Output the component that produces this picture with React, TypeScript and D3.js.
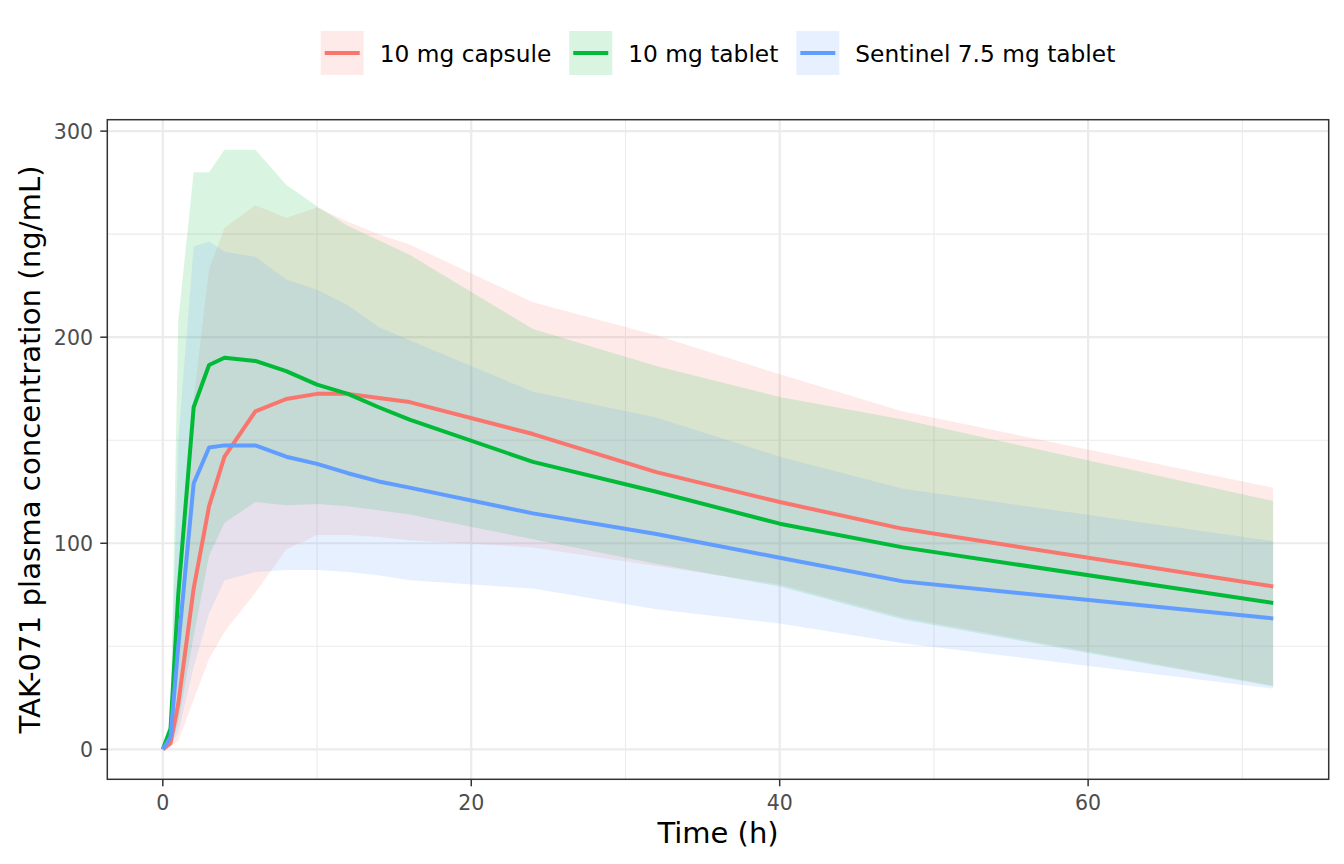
import React, { useRef, useEffect } from 'react';
import * as d3 from 'd3';

// sampling times (h)
const times = [0, 0.5, 1, 2, 3, 4, 6, 8, 10, 12, 14, 16, 24, 32, 40, 48, 72];

// 10 mg capsule
const capsuleMedian = [0, 3, 22, 78, 118, 142, 164, 170, 172.5, 172.5, 170.5, 168.5, 153, 134.5, 120, 107, 79];
const capsuleLower = [0, 1, 4, 24, 44, 57, 76, 97, 104, 104, 103, 101.5, 98, 89, 80, 64, 31];
const capsuleUpper = [0, 8, 45, 170, 233, 253, 264, 258, 263, 256, 250, 245, 217, 201, 182, 164, 127];

// 10 mg tablet
const tabletMedian = [0, 10, 75, 166, 186.5, 190, 188.5, 183.5, 177, 172.5, 166, 160, 139.5, 125, 109.5, 98, 71];
const tabletLower = [0, 2, 13, 55, 94, 110, 120, 118.5, 119, 118, 116, 114, 102, 90, 79, 63, 30.5];
const tabletUpper = [0, 12, 208, 280, 280, 291, 291, 274, 263.5, 254, 247, 240, 204, 186, 171, 160, 120.5];

// Sentinel 7.5 mg tablet
const sentinelMedian = [0, 6, 50, 129, 146.5, 147.5, 147.5, 142, 138.5, 134, 130, 127, 114.5, 104.5, 93, 81.5, 63.5];
const sentinelLower = [0, 2, 8, 40, 66, 82, 86, 87, 87, 86, 84.5, 82, 78, 68, 61, 51.5, 29.5];
const sentinelUpper = [0, 15, 150, 244, 246.5, 241.5, 239, 228, 223, 215.5, 205, 198.5, 173.5, 161, 142, 126.5, 101];

const groupNames = ['10 mg capsule', '10 mg tablet', 'Sentinel 7.5 mg tablet'];
const groupColors = ['#F8766D', '#00BA38', '#619CFF'];

const xMajorTicks = [0, 20, 40, 60];
const xMinorTicks = [10, 30, 50, 70];
const yMajorTicks = [0, 100, 200, 300];
const yMinorTicks = [50, 150, 250];

const xTitle = 'Time (h)';
const yTitle = 'TAK-071 plasma concentration (ng/mL)';

type Pt = { t: number; med: number; lo: number; hi: number };

function App() {
  const svgRef = useRef<SVGSVGElement | null>(null);

  useEffect(() => {
    const svg = d3.select(svgRef.current);
    svg.selectAll('*').remove();
    const font = 'DejaVu Sans, sans-serif';

    const left = 107.3;
    const right = 1328.7;
    const top = 119.7;
    const bottom = 779.3;

    // ggplot-style 5% expansion
    const x = d3.scaleLinear().domain([-3.6, 75.6]).range([left, right]);
    const y = d3.scaleLinear().domain([-14.55, 305.55]).range([bottom, top]);

    const groups: Pt[][] = [
      times.map((t, i) => ({ t, med: capsuleMedian[i], lo: capsuleLower[i], hi: capsuleUpper[i] })),
      times.map((t, i) => ({ t, med: tabletMedian[i], lo: tabletLower[i], hi: tabletUpper[i] })),
      times.map((t, i) => ({ t, med: sentinelMedian[i], lo: sentinelLower[i], hi: sentinelUpper[i] })),
    ];

    svg.append('rect').attr('x', 0).attr('y', 0).attr('width', 1344).attr('height', 864).attr('fill', 'white');

    // grid
    const grid = svg.append('g');
    xMinorTicks.forEach((v) => {
      grid.append('line').attr('x1', x(v)).attr('x2', x(v)).attr('y1', top).attr('y2', bottom)
        .attr('stroke', '#EBEBEB').attr('stroke-width', 1.1);
    });
    yMinorTicks.forEach((v) => {
      grid.append('line').attr('x1', left).attr('x2', right).attr('y1', y(v)).attr('y2', y(v))
        .attr('stroke', '#EBEBEB').attr('stroke-width', 1.1);
    });
    xMajorTicks.forEach((v) => {
      grid.append('line').attr('x1', x(v)).attr('x2', x(v)).attr('y1', top).attr('y2', bottom)
        .attr('stroke', '#EBEBEB').attr('stroke-width', 2.2);
    });
    yMajorTicks.forEach((v) => {
      grid.append('line').attr('x1', left).attr('x2', right).attr('y1', y(v)).attr('y2', y(v))
        .attr('stroke', '#EBEBEB').attr('stroke-width', 2.2);
    });

    const area = d3.area<Pt>().x((d) => x(d.t)).y0((d) => y(d.lo)).y1((d) => y(d.hi));
    const line = d3.line<Pt>().x((d) => x(d.t)).y((d) => y(d.med));

    // ribbons first, then median lines
    groups.forEach((g, i) => {
      svg.append('path').attr('d', area(g)).attr('fill', groupColors[i]).attr('fill-opacity', 0.15);
    });
    groups.forEach((g, i) => {
      svg.append('path').attr('d', line(g)).attr('fill', 'none').attr('stroke', groupColors[i])
        .attr('stroke-width', 4).attr('stroke-linejoin', 'round');
    });

    // panel border
    svg.append('rect').attr('x', left).attr('y', top).attr('width', right - left).attr('height', bottom - top)
      .attr('fill', 'none').attr('stroke', '#333333').attr('stroke-width', 1.5);

    // axes
    const axisG = svg.append('g');
    xMajorTicks.forEach((v) => {
      axisG.append('line').attr('x1', x(v)).attr('x2', x(v)).attr('y1', bottom).attr('y2', bottom + 7)
        .attr('stroke', '#333333').attr('stroke-width', 1.5);
      axisG.append('text').attr('x', x(v)).attr('y', 810).attr('text-anchor', 'middle')
        .attr('font-family', font).attr('font-size', 20.5).attr('fill', '#4D4D4D').text(v);
    });
    yMajorTicks.forEach((v) => {
      axisG.append('line').attr('x1', left - 7).attr('x2', left).attr('y1', y(v)).attr('y2', y(v))
        .attr('stroke', '#333333').attr('stroke-width', 1.5);
      axisG.append('text').attr('x', 93).attr('y', y(v)).attr('dy', '0.36em').attr('text-anchor', 'end')
        .attr('font-family', font).attr('font-size', 20.5).attr('fill', '#4D4D4D').text(v);
    });

    svg.append('text').attr('x', (left + right) / 2).attr('y', 843).attr('text-anchor', 'middle')
      .attr('font-family', font).attr('font-size', 29).attr('fill', 'black').text(xTitle);
    svg.append('text').attr('transform', `translate(40,${(top + bottom) / 2}) rotate(-90)`)
      .attr('text-anchor', 'middle').attr('font-family', font).attr('font-size', 29.2)
      .attr('fill', 'black').text(yTitle);

    // legend on top, centred over the panel
    const legend = svg.append('g');
    const keyW = 43;
    const keyH = 44;
    const textGap = 16;
    const itemGap = 18;
    const items = groupNames.map((name, i) => {
      const item = legend.append('g');
      item.append('rect').attr('x', 0).attr('y', 31).attr('width', keyW).attr('height', keyH)
        .attr('fill', groupColors[i]).attr('fill-opacity', 0.15);
      item.append('line').attr('x1', 4).attr('x2', keyW - 4).attr('y1', 53).attr('y2', 53)
        .attr('stroke', groupColors[i]).attr('stroke-width', 4);
      const txt = item.append('text').attr('x', keyW + textGap).attr('y', 61.7)
        .attr('font-family', font).attr('font-size', 23.3).attr('fill', 'black').text(name);
      const w = (txt.node() as SVGTextElement).getComputedTextLength();
      return { item, width: keyW + textGap + w };
    });
    const total = d3.sum(items, (d) => d.width) + itemGap * (items.length - 1);
    let cursor = (left + right) / 2 - total / 2;
    items.forEach((d) => {
      d.item.attr('transform', `translate(${cursor},0)`);
      cursor += d.width + itemGap;
    });
  }, []);

  return (
    <svg
      ref={svgRef}
      width={1344}
      height={864}
      style={{ position: 'absolute', left: 0, top: 0 }}
    ></svg>
  );
}

export default App;
